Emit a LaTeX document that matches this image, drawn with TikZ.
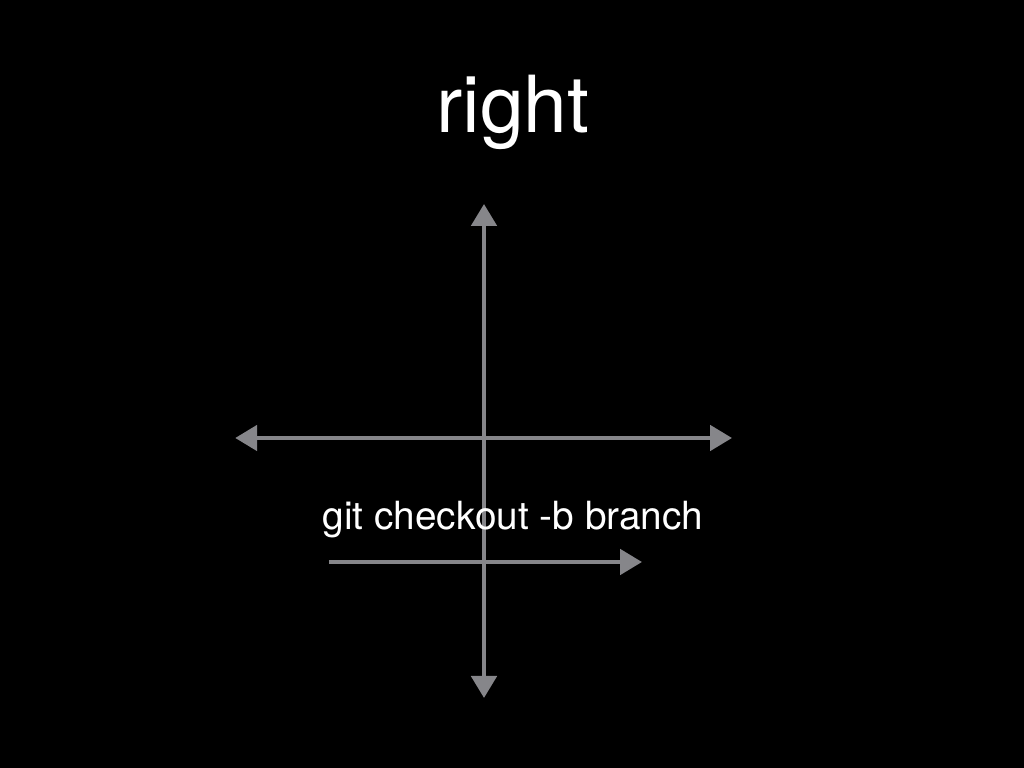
\documentclass[tikz,border=0pt]{standalone}
\usepackage{fontspec}
\setmainfont{TeX Gyre Heros}
\usetikzlibrary{arrows.meta}
\definecolor{chalkgrey}{RGB}{134,134,138}

\begin{document}
\begin{tikzpicture}[>={Triangle[length=0.55cm,width=0.63cm]}, chalk/.style={line width=0.11cm, draw=chalkgrey}]
\fill[black] (0,0) rectangle (25.6,19.2);
\useasboundingbox (0,0) rectangle (25.6,19.2);
\node (title) at (12.825,15.875) [anchor=base, text=white, inner sep=0pt] {\fontsize{56}{62}\selectfont right};
\coordinate (top) at (12.1,14.1);
\coordinate (bottom) at (12.1,1.75);
\coordinate (left) at (5.88,8.25);
\coordinate (right) at (18.3,8.25);
\coordinate (bstart) at (8.22,5.15);
\coordinate (bend) at (16.05,5.15);
\draw[<->, chalk] (bottom) -- (top);
\draw[<->, chalk] (left) -- (right);
\node (cmd) at (12.825,5.95) [anchor=base, text=white, inner sep=0pt] {\fontsize{27.6}{33}\selectfont git checkout -b branch};
\draw[->, chalk] (bstart) -- (bend);
\end{tikzpicture}
\end{document}
